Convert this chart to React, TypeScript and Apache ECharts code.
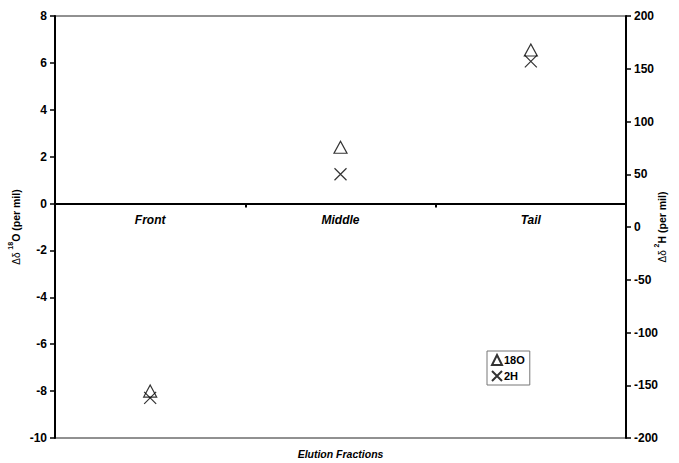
import React, { useEffect, useRef } from "react";
import * as echarts from "echarts";

const categories = ["Front", "Middle", "Tail"];
const o18Values = [-8.0, 2.4, 6.55];
const h2Values = [-162, 50, 157];
const leftTicks = { min: -10, max: 8, interval: 2 };
const rightTicks = { min: -200, max: 200, interval: 50 };

const CROSS = "path://M0,0L10,10M10,0L0,10";
const FONT = "Liberation Sans, Arial, sans-serif";

const GRID_TOP = 16;
const GRID_BOTTOM_Y = 438;
const ZERO_Y = GRID_TOP + ((GRID_BOTTOM_Y - GRID_TOP) * leftTicks.max) / (leftTicks.max - leftTicks.min);

export default function App() {
  const ref = useRef<HTMLDivElement>(null);
  useEffect(() => {
    document.body.style.margin = "0";
    const chart = echarts.init(ref.current!, null, { renderer: "svg" });
    const labelStyle = { color: "#000", fontWeight: "bold" as const, fontSize: 12, fontFamily: FONT };
    const nameRich = {
      n: { fontSize: 10, color: "#000", fontFamily: FONT, lineHeight: 14, verticalAlign: "bottom" },
      s: { fontSize: 7, fontWeight: "bold", color: "#000", fontFamily: FONT, lineHeight: 14, verticalAlign: "top" },
      b: { fontSize: 10.5, fontWeight: "bold", color: "#000", fontFamily: FONT, lineHeight: 14, verticalAlign: "bottom" },
    };
    chart.setOption({
      animation: false,
      textStyle: { fontFamily: FONT },
      grid: {
        left: 55,
        right: 53,
        top: GRID_TOP,
        bottom: 463 - GRID_BOTTOM_Y,
        show: true,
        borderColor: "#222",
        borderWidth: 1,
        backgroundColor: "transparent",
        containLabel: false,
        outerBoundsMode: "none",
      },
      legend: {
        orient: "vertical",
        left: 487,
        top: 351,
        padding: [3, 5, 3, 4],
        itemGap: 4,
        itemWidth: 10,
        itemHeight: 10,
        borderColor: "#777",
        borderWidth: 1,
        textStyle: { ...labelStyle, fontSize: 11, padding: [0, 0, 0, -3] },
        data: ["18O", "2H"],
      },
      xAxis: [
        {
          type: "category",
          data: categories,
          position: "bottom",
          offset: -(GRID_BOTTOM_Y - ZERO_Y),
          nameMoveOverlap: false,
          axisLine: { onZero: false, lineStyle: { color: "#000", width: 2 } },
          axisTick: { show: true, length: 4, lineStyle: { color: "#000", width: 2 } },
          axisLabel: { ...labelStyle, fontStyle: "italic", margin: 10 },
          splitLine: { show: false },
          name: "Elution Fractions",
          nameLocation: "middle",
          nameGap: 448 - ZERO_Y,
          nameTextStyle: { ...labelStyle, fontStyle: "italic", fontSize: 10.5 },
        },
      ],
      yAxis: [
        {
          type: "value",
          ...leftTicks,
          position: "left",
          nameMoveOverlap: false,
          axisLine: { show: true, lineStyle: { color: "#000", width: 2 } },
          axisTick: { show: true, length: 5, lineStyle: { color: "#000", width: 1.5 } },
          axisLabel: { ...labelStyle, margin: 8 },
          splitLine: { show: false },
          name: "{n|Δδ }{s|18}{b|O (per mil)}",
          nameLocation: "middle",
          nameGap: 34,
          nameRotate: 90,
          nameTextStyle: { rich: nameRich },
        },
        {
          type: "value",
          ...rightTicks,
          position: "right",
          nameMoveOverlap: false,
          axisLine: { show: true, lineStyle: { color: "#000", width: 2 } },
          axisTick: { show: true, length: 5, lineStyle: { color: "#000", width: 1.5 } },
          axisLabel: { ...labelStyle, margin: 8 },
          splitLine: { show: false },
          name: "{n|Δδ }{s|2}{b|H (per mil)}",
          nameLocation: "middle",
          nameGap: 27,
          nameRotate: 90,
          nameTextStyle: { rich: nameRich },
        },
      ],
      series: [
        {
          name: "18O",
          type: "scatter",
          xAxisIndex: 0,
          yAxisIndex: 0,
          data: o18Values,
          symbol: "triangle",
          symbolSize: [13, 12],
          itemStyle: { color: "rgba(255,255,255,0)", borderColor: "#000", borderWidth: 1.2 },
        },
        {
          name: "2H",
          type: "scatter",
          xAxisIndex: 0,
          yAxisIndex: 1,
          data: h2Values,
          symbol: CROSS,
          symbolSize: 12,
          itemStyle: { color: "rgba(255,255,255,0)", borderColor: "#000", borderWidth: 1.2 },
        },
      ],
    });
    return () => chart.dispose();
  }, []);
  return <div ref={ref} style={{ width: 679, height: 463 }} />;
}
